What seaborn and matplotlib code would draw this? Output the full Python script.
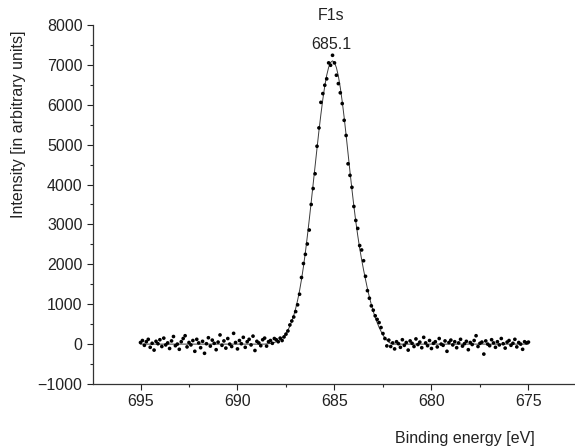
import numpy as np
import pandas as pd
import matplotlib
matplotlib.use("Agg")
import matplotlib.pyplot as plt
from matplotlib.ticker import MultipleLocator
import seaborn as sns

# measured points, 0.1 eV steps from 695.0 down to 675.0
energy = np.round(np.linspace(695.0, 675.0, 201), 1)
intensity = [
    40, 90, -30, 60, 120, -80, 20, -150, 70, 10,
    110, -60, 150, -20, 30, -110, 80, 190, -40, 0,
    -130, 60, 140, 210, -70, 40, -20, 90, -180, 120,
    30, -90, 70, -230, 10, 160, -50, 100, 20, -140,
    50, 230, -30, 80, -100, 140, 0, -60, 270, 40,
    -120, 90, 10, 170, -80, 60, 120, -20, 200, -160,
    70, 30, -40, 110, 150, -50, 60,
    # peak region 688.3 -> 682.0
    90, 20, 140, 110, 60, 150, 90, 180, 250, 330,
    480, 580, 680, 815, 985, 1250, 1670, 2020, 2250, 2510,
    2860, 3500, 3900, 4270, 4960, 5420, 6060, 6280, 6490, 6650,
    7050, 6990, 7240, 7050, 6740, 6530, 6300, 6030, 5610, 5230,
    4520, 4230, 3930, 3450, 3100, 2900, 2470, 2360, 2090, 1700,
    1340, 1150, 960, 850, 710, 620, 540, 415, 265, 140,
    -45, 100, -60, 30,
    # baseline 681.9 -> 675.0
    -120, 60, 10, -80, 110, -30, 40, -150, 80, 20,
    -60, 130, -10, 50, -90, 170, 30, -40, 90, -110,
    20, 60, -70, 140, 0, -30, 80, -180, 40, 100,
    -20, 60, -90, 30, 120, -50, 10, 70, -140, 40,
    -10, 90, 210, -60, 20, 50, -250, 80, 0, -40,
    110, 30, -80, 60, -20, 140, 10, -100, 50, 90,
    -30, 20, 120, -70, 40, 0, -130, 60, 30, 50,
]

# fitted curve
fit_energy = [
    695.0,
    688.6, 688.5, 688.4, 688.3, 688.2, 688.1, 688.0, 687.9, 687.8, 687.7,
    687.6, 687.5, 687.4, 687.3, 687.2, 687.1, 687.0, 686.9, 686.8, 686.7,
    686.6, 686.5, 686.4, 686.3, 686.2, 686.1, 686.0, 685.9, 685.8, 685.7,
    685.6, 685.5, 685.4, 685.3, 685.2, 685.1, 685.0, 684.9, 684.8, 684.7,
    684.6, 684.5, 684.4, 684.3, 684.2, 684.1, 684.0, 683.9, 683.8, 683.7,
    683.6, 683.5, 683.4, 683.3, 683.2, 683.1, 683.0, 682.9, 682.8, 682.7,
    682.6, 682.5, 682.4, 682.3, 682.2, 682.1, 682.0, 681.9,
    675.0,
]
fit_intensity = [
    0,
    0, 5, 10, 18, 28, 42, 60, 85, 115, 155,
    205, 270, 350, 450, 575, 720, 895, 1100, 1340, 1620,
    1940, 2300, 2700, 3120, 3560, 4010, 4460, 4910, 5350, 5760,
    6140, 6470, 6740, 6940, 7060, 7100, 7060, 6930, 6720, 6430,
    6080, 5680, 5240, 4780, 4320, 3880, 3460, 3070, 2720, 2400,
    2120, 1860, 1620, 1390, 1180, 990, 820, 670, 540, 420,
    320, 230, 155, 95, 50, 20, 5, 0,
    0,
]

df = pd.DataFrame({"energy": energy, "intensity": intensity})
fit = pd.DataFrame({"energy": fit_energy, "intensity": fit_intensity})

sns.set_style("ticks")
plt.rcParams["font.family"] = ["Liberation Sans", "DejaVu Sans"]

fig = plt.figure(figsize=(5.75, 4.46), dpi=100)
ax = fig.add_axes([0.1617, 0.139, 0.8383, 0.805])

sns.lineplot(x="energy", y="intensity", data=fit, sort=False, estimator=None,
             color="#3a3a3a", linewidth=0.7, ax=ax)
sns.scatterplot(x="energy", y="intensity", data=df, color="black", s=7,
                edgecolor="none", ax=ax, zorder=3)

ax.set_xlim(697.45, 672.6)
ax.set_ylim(-1000, 8000)
ax.set_xticks([695, 690, 685, 680, 675])
ax.set_yticks(range(-1000, 8001, 1000))
ax.xaxis.set_minor_locator(MultipleLocator(2.5))
ax.yaxis.set_minor_locator(MultipleLocator(500))
ax.tick_params(which="major", length=4, width=0.8, labelsize=11.5, colors="#222222")
ax.tick_params(which="minor", length=2.5, width=0.8)

for side in ["top", "right"]:
    ax.spines[side].set_visible(False)
for side in ["left", "bottom"]:
    ax.spines[side].set_color("#333333")
    ax.spines[side].set_linewidth(0.9)

ax.set_xlabel("Binding energy [eV]", fontsize=11.5, color="#222222")
ax.xaxis.label.set_horizontalalignment("right")
ax.xaxis.set_label_coords(0.917, -0.13)
ax.set_ylabel("Intensity [in arbitrary units]", fontsize=11.5, color="#222222")
ax.yaxis.set_label_coords(-0.139, 0.724)

ax.text(685.15, 7520, "685.1", ha="center", va="center", fontsize=11.5, color="#222222")
ax.text(685.2, 8250, "F1s", ha="center", va="center", fontsize=11.5, color="#222222")

plt.savefig("out.png", dpi=100)
